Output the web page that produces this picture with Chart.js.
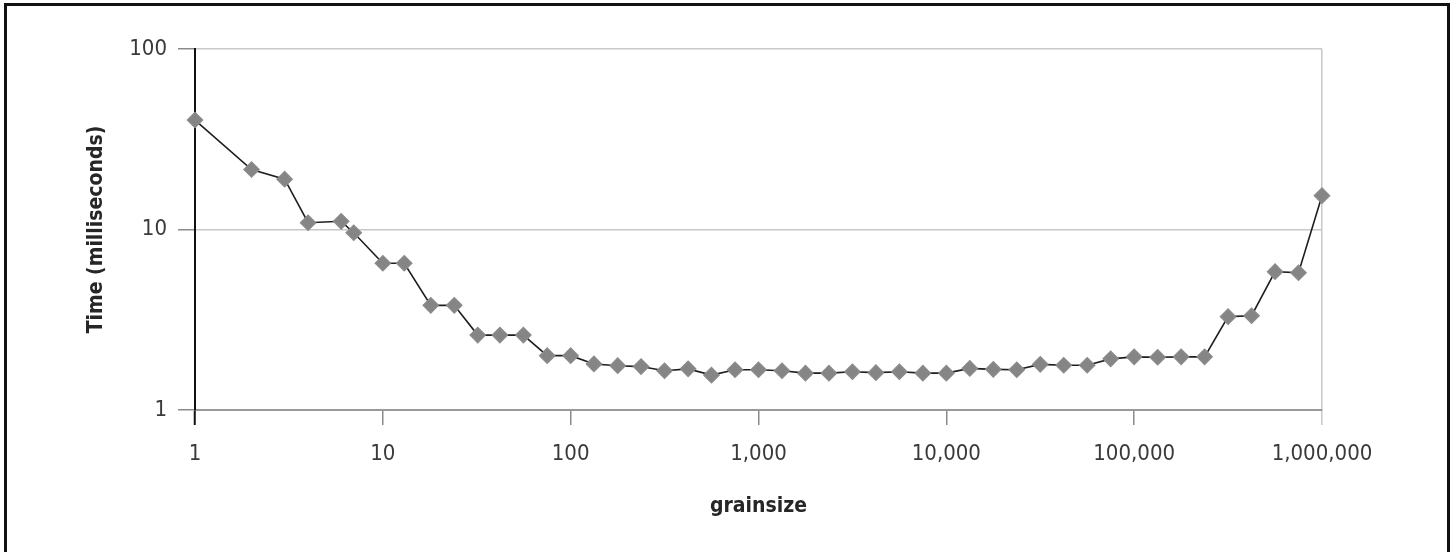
<!DOCTYPE html>
<html>
<head>
<meta charset="utf-8">
<script src="https://cdn.jsdelivr.net/npm/chart.js@4"></script>
<style>
  html, body { margin: 0; padding: 0; background: #fff; }
  #wrap { width: 1456px; height: 552px; }
</style>
</head>
<body>
<div id="wrap"><canvas id="grainChart" width="1456" height="552"></canvas></div>
<script>
// Data
const grainsize = [1, 2, 3, 4, 6, 7, 10, 13, 18, 24, 32, 42, 56, 75, 100, 133, 178, 237, 316, 422,
    562, 750, 1000, 1334, 1778, 2371, 3162, 4217, 5623, 7499, 10000, 13335, 17783, 23714, 31623,
    42170, 56234, 74989, 100000, 133352, 177828, 237137, 316228, 421697, 562341, 749894, 1000000];
const timeMs = [40.4, 21.5, 19.0, 10.9, 11.1, 9.6, 6.5, 6.5, 3.8, 3.8, 2.6, 2.6, 2.6, 2.0, 2.0, 1.80,
    1.76, 1.74, 1.65, 1.69, 1.56, 1.67, 1.67, 1.65, 1.60, 1.60, 1.63, 1.61, 1.63, 1.60, 1.60, 1.70,
    1.68, 1.67, 1.79, 1.77, 1.77, 1.92, 1.97, 1.96, 1.97, 1.97, 3.29, 3.33, 5.84, 5.76, 15.4];
const xTicks = [1, 10, 100, 1000, 10000, 100000, 1000000];
const yTicks = [1, 10, 100];

const fontFamily = "'Liberation Sans Narrow', 'DejaVu Sans Condensed', sans-serif";

// Outer frame of the figure (left, top, right edges)
const framePlugin = {
    id: 'frame',
    beforeDraw(chart) {
        const ctx = chart.ctx;
        ctx.save();
        ctx.fillStyle = '#fff';
        ctx.fillRect(0, 0, chart.width, chart.height);
        ctx.strokeStyle = '#111';
        ctx.lineWidth = 3;
        ctx.beginPath();
        ctx.moveTo(5.5, chart.height);
        ctx.lineTo(5.5, 4.5);
        ctx.lineTo(1448.5, 4.5);
        ctx.lineTo(1448.5, chart.height);
        ctx.stroke();
        ctx.restore();
    }
};

document.addEventListener('DOMContentLoaded', function() {
    const ctx = document.getElementById('grainChart');
    const points = grainsize.map((g, i) => ({ x: g, y: timeMs[i] }));

    new Chart(ctx, {
        type: 'line',
        data: {
            datasets: [{
                data: points,
                borderColor: '#1e1e1e',
                borderWidth: 1.6,
                pointStyle: 'rectRot',
                pointRadius: 7.5,
                pointBackgroundColor: '#858585',
                pointBorderColor: '#8a8a8a',
                pointBorderWidth: 1.5,
                tension: 0,
                clip: false
            }]
        },
        options: {
            responsive: false,
            animation: false,
            layout: {
                padding: { left: 0, right: 134, top: 49, bottom: 0 }
            },
            plugins: {
                legend: { display: false },
                tooltip: { enabled: false }
            },
            scales: {
                x: {
                    type: 'logarithmic',
                    min: 1,
                    max: 1000000,
                    afterBuildTicks: function(scale) {
                        scale.ticks = xTicks.map(v => ({ value: v }));
                    },
                    afterFit: function(scale) {
                        scale.height = 142;
                    },
                    ticks: {
                        autoSkip: false,
                        maxRotation: 0,
                        padding: 16,
                        color: '#3a3a3a',
                        font: { family: fontFamily, size: 22 },
                        callback: function(value) {
                            return Number(value).toLocaleString('en-US');
                        }
                    },
                    grid: {
                        drawOnChartArea: true,
                        tickLength: 15,
                        lineWidth: 1.5,
                        color: function(c) {
                            return c.index === xTicks.length - 1 ? '#c8c8c8' : 'rgba(0,0,0,0)';
                        },
                        tickColor: function(c) {
                            if (c.index === 0) return '#111';
                            if (c.index === xTicks.length - 1) return '#c8c8c8';
                            return '#8a8a8a';
                        },
                        tickWidth: function(c) {
                            return c.index === 0 ? 2 : 1.5;
                        }
                    },
                    border: { color: '#999', width: 2 },
                    title: {
                        display: true,
                        text: 'grainsize',
                        color: '#262626',
                        font: { family: fontFamily, size: 21, weight: 'bold' },
                        padding: { top: 0, bottom: 33 }
                    }
                },
                y: {
                    type: 'logarithmic',
                    min: 1,
                    max: 100,
                    afterBuildTicks: function(scale) {
                        scale.ticks = yTicks.map(v => ({ value: v }));
                    },
                    afterFit: function(scale) {
                        scale.width = 195;
                    },
                    ticks: {
                        padding: 11,
                        color: '#3a3a3a',
                        font: { family: fontFamily, size: 22 },
                        callback: function(value) {
                            return Number(value).toLocaleString('en-US');
                        }
                    },
                    grid: {
                        tickLength: 17,
                        lineWidth: 1.5,
                        color: function(c) {
                            return c.index === 0 ? 'rgba(0,0,0,0)' : '#c8c8c8';
                        },
                        tickColor: '#8a8a8a'
                    },
                    border: { color: '#111', width: 2 },
                    title: {
                        display: true,
                        text: 'Time (milliseconds)',
                        color: '#262626',
                        font: { family: fontFamily, size: 21, weight: 'bold' },
                        padding: { top: 84, bottom: 0 }
                    }
                }
            }
        },
        plugins: [framePlugin]
    });
});
</script>
</body>
</html>
